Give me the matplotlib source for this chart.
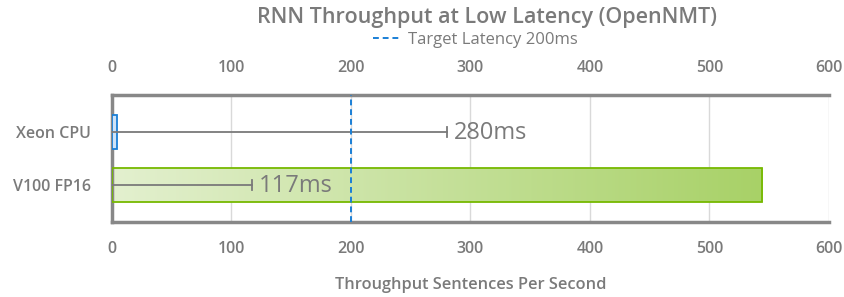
import numpy as np
import matplotlib
matplotlib.use("Agg")
import matplotlib.pyplot as plt
from matplotlib.lines import Line2D

plt.rcParams['font.family'] = ['Open Sans', 'DejaVu Sans']

# data
categories = ['Xeon CPU', 'V100 FP16']
throughput = [4, 544]
latency = [280, 117]
latency_labels = ['280ms', '117ms']
target_latency = 200
xticks = [0, 100, 200, 300, 400, 500, 600]

gray = '#7a7a7a'
fig = plt.figure(figsize=(8.45, 2.97), dpi=100)
ax = fig.add_axes([112/845, 1 - 222/297, 717/845, 127/297])

ypos = np.arange(len(categories))
bars = ax.barh(ypos, throughput, height=0.64, zorder=3)
bars[0].set_facecolor('#cfe3f7')
bars[0].set_edgecolor('#1a7fd6')
bars[0].set_linewidth(1.3)
bars[1].set_facecolor('none')
bars[1].set_edgecolor('#76b900')
bars[1].set_linewidth(1.3)

# gradient fill for the green bar
b = bars[1]
x0, y0 = b.get_x(), b.get_y()
w, h = b.get_width(), b.get_height()
grad = np.linspace(0, 1, 256).reshape(1, -1)
cmap = matplotlib.colors.LinearSegmentedColormap.from_list('g', ['#e3f0cf', '#a8d167'])
im = ax.imshow(grad, extent=[x0, x0 + w, y0 + h, y0], aspect='auto', cmap=cmap, zorder=2)
im.set_clip_path(b)

# latency lines
for i in range(len(categories)):
    ax.plot([0, latency[i]], [ypos[i], ypos[i]], color=gray, lw=1.3, zorder=4)
    ax.plot([latency[i], latency[i]], [ypos[i] - 0.1, ypos[i] + 0.1], color=gray, lw=1.3, zorder=4)
    ax.text(latency[i] + 6, ypos[i] + 0.02, latency_labels[i], color=gray, fontsize=17,
            va='center', ha='left', zorder=5)

ax.axvline(target_latency, color='#1a7fd6', ls=(0, (3, 2)), lw=1.4, zorder=5)

ax.set_xlim(0, 600)
ax.set_ylim(1.7, -0.7)
ax.set_yticks(ypos)
ax.set_yticklabels(categories)
ax.set_xticks(xticks)
ax.tick_params(axis='both', length=0, colors=gray, labelsize=11.5)
ax.tick_params(axis='y', pad=15)
ax.tick_params(axis='x', pad=14, labeltop=True)
for lab in ax.get_yticklabels() + ax.get_xticklabels():
    lab.set_fontweight('semibold')
ax.grid(axis='x', color='#d9d9d9', lw=1, zorder=0)
ax.set_axisbelow(True)

for s in ['top', 'left', 'bottom']:
    ax.spines[s].set_color('#888888')
    ax.spines[s].set_linewidth(2.5)
ax.spines['right'].set_visible(False)

ax.set_xlabel('Throughput Sentences Per Second', color=gray, fontsize=11.8,
              fontweight='semibold', labelpad=14)
fig.text(487/845, 1 - 17/297, 'RNN Throughput at Low Latency (OpenNMT)', ha='center', va='center',
         color=gray, fontsize=15.5, fontweight='semibold')
handle = Line2D([], [], color='#1a7fd6', ls=(0, (3, 2)), lw=1.4)
fig.legend([handle], ['Target Latency 200ms'], loc='center', bbox_to_anchor=(475/845, 1 - 40/297),
           frameon=False, fontsize=12, handlelength=1.6, handletextpad=0.5,
           labelcolor=gray)

fig.savefig('out.png', dpi=100)
